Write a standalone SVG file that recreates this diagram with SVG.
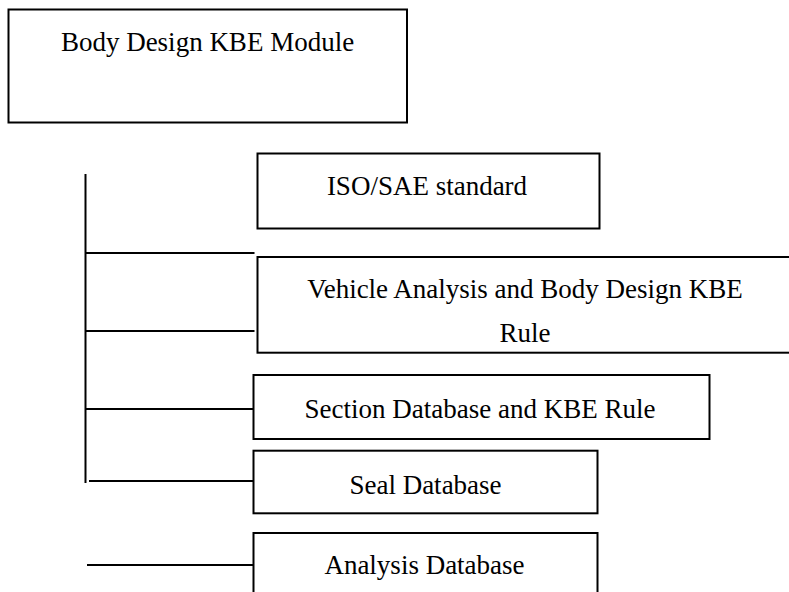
<svg xmlns="http://www.w3.org/2000/svg" width="789" height="592" viewBox="0 0 789 592">
<style>
.box{fill:#fff;stroke:#000;stroke-width:2}
.ln{stroke:#000;stroke-width:2;fill:none}
.t{font-family:'Times New Roman',Times,'Liberation Serif',serif;font-size:27px;fill:#000;text-anchor:middle}
</style>
<rect width="789" height="592" fill="#fff"/>
<g id="connectors">
<line class="ln" x1="85.5" y1="174" x2="85.5" y2="483"/>
<line class="ln" x1="85" y1="253" x2="254.5" y2="253"/>
<line class="ln" x1="85" y1="331" x2="254.5" y2="331"/>
<line class="ln" x1="85" y1="409" x2="253.5" y2="409"/>
<line class="ln" x1="89" y1="481" x2="253.5" y2="481"/>
<line class="ln" x1="87" y1="565" x2="258" y2="565"/>
</g>
<g id="body-design-kbe-module">
<rect class="box" x="8.5" y="9.5" width="398.5" height="113"/>
<text class="t" x="207.5" y="51">Body Design KBE Module</text>
</g>
<g id="iso-sae-standard">
<rect class="box" x="257.5" y="153.5" width="342" height="75"/>
<text class="t" x="427" y="195">ISO/SAE standard</text>
</g>
<g id="vehicle-analysis">
<rect class="box" x="257.5" y="257" width="540" height="95.7"/>
<text class="t" x="525" y="298">Vehicle Analysis and Body Design KBE</text>
<text class="t" x="525" y="342">Rule</text>
</g>
<g id="section-database">
<rect class="box" x="253.5" y="375" width="456" height="64"/>
<text class="t" x="480" y="418">Section Database and KBE Rule</text>
</g>
<g id="seal-database">
<rect class="box" x="253.5" y="450.7" width="344" height="62.6"/>
<text class="t" x="425.5" y="494">Seal Database</text>
</g>
<g id="analysis-database">
<rect class="box" x="253.5" y="533" width="344" height="80"/>
<text class="t" x="424.5" y="574">Analysis Database</text>
</g>
</svg>
